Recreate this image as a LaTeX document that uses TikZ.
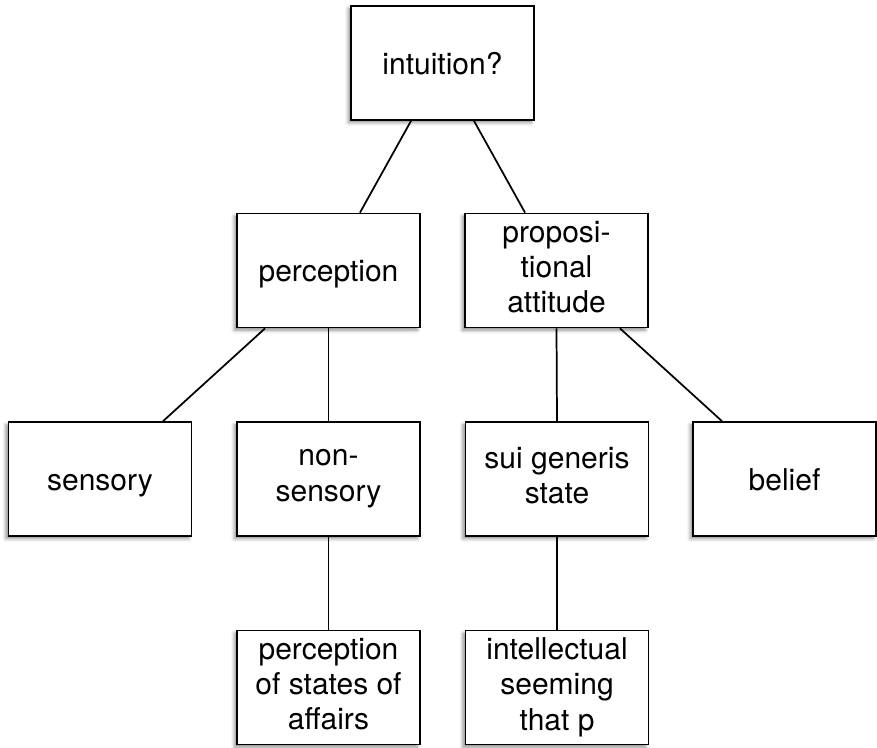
\documentclass[tikz,border=0pt]{standalone}
\usepackage{fontspec}
\setmainfont{TeX Gyre Heros}
\usetikzlibrary{shadows.blur}
\newcommand{\boxstrut}{\rule[-5.4pt]{0pt}{27.4pt}}
\begin{document}
\begin{tikzpicture}[x=0.75pt,y=-0.75pt,
  box/.style={draw=black,line width=1.3pt,fill=white,minimum width=137.25pt,minimum height=85.5pt,
    align=center,inner sep=1pt,font=\fontsize{22.5pt}{26.5pt}\selectfont,
    execute at begin node=\boxstrut, execute at end node=\boxstrut,
    blur shadow={shadow xshift=-2pt,shadow yshift=-2pt,shadow blur radius=2.5pt,shadow opacity=45}},
  link/.style={line width=1.3pt,black}]
\useasboundingbox (0,0) rectangle (877,747);
\node[box] (intu) at (442.5,63) {intuition?};
\node[box] (perc) at (328.5,270.5) {perception};
\node[box] (prop) at (556.5,270.5) {proposi-\\tional\\attitude};
\node[box] (sens) at (100,479) {sensory};
\node[box] (nons) at (328.5,479) {non-\\sensory};
\node[box] (sui) at (557,479) {sui generis\\state};
\node[box] (bel) at (784.5,479) {belief};
\node[box] (psa) at (328.5,687.5) {perception\\of states of\\affairs};
\node[box] (isp) at (557,687.5) {intellectual\\seeming\\that p};
\draw[link] ([xshift=-23.6pt]intu.south) -- ([xshift=23.6pt]perc.north);
\draw[link] ([xshift=23.6pt]intu.south) -- ([xshift=-23.6pt]prop.north);
\draw[link] ([xshift=-47.6pt]perc.south) -- ([xshift=47.3pt]sens.north);
\draw[link] (perc.south) -- (nons.north);
\draw[link] (prop.south) -- (sui.north);
\draw[link] ([xshift=47.6pt]prop.south) -- ([xshift=-46.9pt]bel.north);
\draw[link] (nons.south) -- (psa.north);
\draw[link] (sui.south) -- (isp.north);
\end{tikzpicture}
\end{document}
